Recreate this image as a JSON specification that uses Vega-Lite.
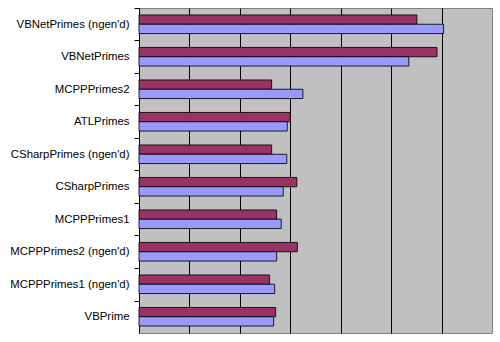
{
  "$schema": "https://vega.github.io/schema/vega-lite/v6.json",
  "width": 353,
  "height": 325,
  "autosize": {"type": "none"},
  "padding": {"left": 139, "top": 8, "right": 8, "bottom": 9},
  "background": "white",
  "config": {
    "view": {"fill": "#C0C0C0", "stroke": "#808080", "strokeWidth": 1},
    "font": "Liberation Sans"
  },
  "data": {
    "values": [
      {"name": "VBNetPrimes (ngen'd)", "series": "A", "value": 5.51},
      {"name": "VBNetPrimes (ngen'd)", "series": "B", "value": 6.04},
      {"name": "VBNetPrimes", "series": "A", "value": 5.91},
      {"name": "VBNetPrimes", "series": "B", "value": 5.35},
      {"name": "MCPPPrimes2", "series": "A", "value": 2.63},
      {"name": "MCPPPrimes2", "series": "B", "value": 3.25},
      {"name": "ATLPrimes", "series": "A", "value": 3.0},
      {"name": "ATLPrimes", "series": "B", "value": 2.94},
      {"name": "CSharpPrimes (ngen'd)", "series": "A", "value": 2.63},
      {"name": "CSharpPrimes (ngen'd)", "series": "B", "value": 2.93},
      {"name": "CSharpPrimes", "series": "A", "value": 3.13},
      {"name": "CSharpPrimes", "series": "B", "value": 2.86},
      {"name": "MCPPPrimes1", "series": "A", "value": 2.73},
      {"name": "MCPPPrimes1", "series": "B", "value": 2.82},
      {"name": "MCPPPrimes2 (ngen'd)", "series": "A", "value": 3.14},
      {"name": "MCPPPrimes2 (ngen'd)", "series": "B", "value": 2.73},
      {"name": "MCPPPrimes1 (ngen'd)", "series": "A", "value": 2.59},
      {"name": "MCPPPrimes1 (ngen'd)", "series": "B", "value": 2.69},
      {"name": "VBPrime", "series": "A", "value": 2.71},
      {"name": "VBPrime", "series": "B", "value": 2.67}
    ]
  },
  "mark": {"type": "bar", "stroke": "#000000", "strokeWidth": 1, "strokeOpacity": 0.85},
  "encoding": {
    "y": {
      "field": "name",
      "type": "nominal",
      "sort": null,
      "scale": {"paddingInner": 0.4286, "paddingOuter": 0.2143},
      "axis": {
        "title": null,
        "domainColor": "#000000",
        "tickColor": "#000000",
        "tickSize": 5,
        "tickOffset": -16.25,
        "labelOffset": 16.25,
        "labelPadding": 5,
        "labelFontSize": 11.4,
        "labelColor": "#000000",
        "labelFont": "Liberation Sans",
        "labelLimit": 200
      }
    },
    "yOffset": {"field": "series", "type": "nominal", "scale": {"paddingInner": 0, "paddingOuter": 0}},
    "x": {
      "field": "value",
      "type": "quantitative",
      "scale": {"domain": [0, 7], "nice": false, "zero": true},
      "axis": {
        "title": null,
        "labels": false,
        "ticks": false,
        "domain": false,
        "grid": true,
        "gridColor": "#000000",
        "gridOpacity": 1,
        "values": [1, 2, 3, 4, 5, 6]
      }
    },
    "color": {
      "field": "series",
      "type": "nominal",
      "scale": {"domain": ["A", "B"], "range": ["#993366", "#9999FF"]},
      "legend": null
    }
  }
}
